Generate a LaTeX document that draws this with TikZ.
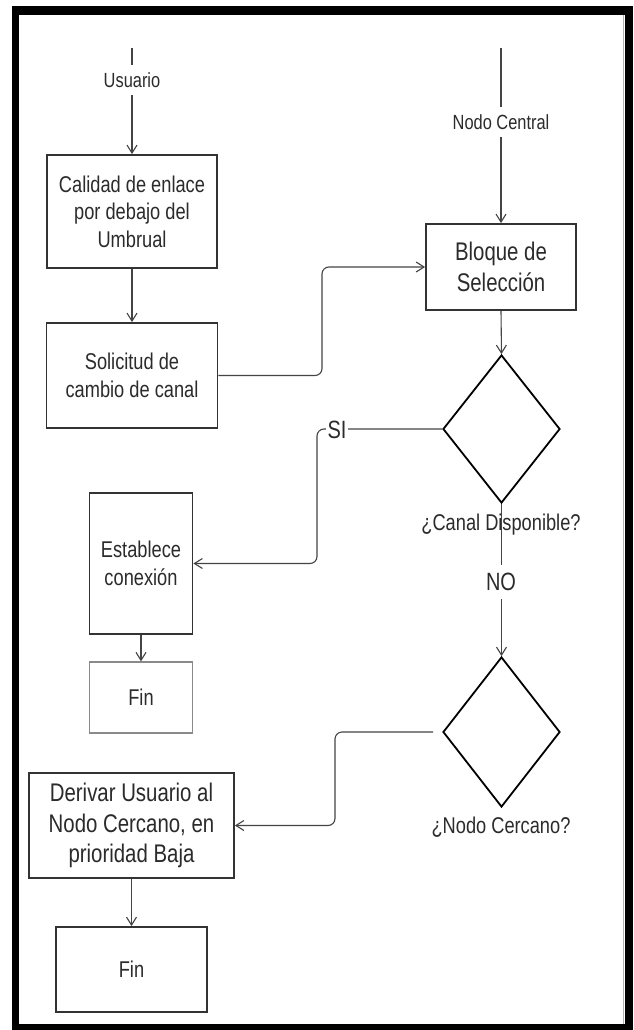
\documentclass[tikz,border=0pt]{standalone}
\usepackage{fontspec}
\setmainfont[FakeStretch=0.8]{Liberation Sans}
\usetikzlibrary{arrows.meta,shapes.geometric}
\definecolor{boxc}{HTML}{333333}
\definecolor{linec}{HTML}{444444}
\definecolor{txtc}{HTML}{2B2B2B}
\definecolor{finc}{HTML}{8A8A8A}
\newcommand\fA{\fontsize{22.8}{27.5}\selectfont}
\newcommand\fB{\fontsize{25.5}{30.5}\selectfont}
\newcommand\fL{\fontsize{20.5}{24}\selectfont}
\newcommand\fS{\fontsize{25}{30}\selectfont}
\begin{document}
\begin{tikzpicture}[x=1pt,y=-1pt,
  procbox/.style={draw=boxc,line width=1.8pt,inner sep=0pt,align=center,text=txtc,font=\fA},
  finbox/.style={procbox,draw=finc,line width=1.3pt},
  decision/.style={diamond,draw=black,line width=1.8pt,inner sep=0pt},
  conn/.style={draw=linec,line width=1.1pt,rounded corners=7pt},
  arr/.style={-{Straight Barb[length=8pt,width=10pt]}},
  lbl/.style={text=txtc,inner xsep=2pt,inner ysep=7pt,font=\fL},
]
\useasboundingbox (0,0) rectangle (633,1030);
% frame
\fill[black] (12,6) rectangle (633,1030);
\fill[white] (19,15) rectangle (625,1024);
\draw[gray!60,line width=1pt] (623,15) -- (623,1024);

% nodes
\node[procbox,minimum width=170pt,minimum height=113pt] (b1) at (132,211.5) {Calidad de enlace\\por debajo del\\Umbrual};
\node[procbox,minimum width=171pt,minimum height=105pt] (b2) at (132,375.5) {Solicitud de\\cambio de canal};
\node[procbox,font=\fB,minimum width=150pt,minimum height=86pt] (bloque) at (501,267) {Bloque de\\Selección};
\node[decision,minimum width=117pt,minimum height=148pt] (d1) at (501.5,429) {};
\node[procbox,minimum width=103pt,minimum height=141pt] (est) at (141,563.5) {Establece\\conexión};
\node[finbox,minimum width=103pt,minimum height=71pt] (fin1) at (141,697.5) {Fin};
\node[decision,minimum width=117pt,minimum height=150pt] (d2) at (501.5,732) {};
\node[procbox,font=\fB,minimum width=205pt,minimum height=105pt] (b3) at (131.5,825.5) {Derivar Usuario al\\Nodo Cercano, en\\prioridad Baja};
\node[procbox,minimum width=151pt,minimum height=85pt] (fin2) at (131.5,969.5) {Fin};

\coordinate (usr0) at (132,48);
\coordinate (nc0) at (501,48);
\coordinate (k1) at (322,0);
\coordinate (k2) at (317,0);
\coordinate (k3) at (335,0);

% connectors
\draw[conn,arr] (usr0) -- (b1.north);
\draw[conn,arr] (b1.south) -- (b2.north);
\draw[conn,arr] (b2.east) -| (k1 |- bloque.west) -- (bloque.west);
\draw[conn,arr] (nc0) -- (bloque.north);
\draw[conn,arr] (bloque.south) -- (d1.north);
\draw[conn,arr] (d1.west) -| (k2 |- est.east) -- (est.east);
\draw[conn,arr] (est.south) -- (fin1.north);
\draw[conn,arr] (d1.south) -- (d2.north);
\draw[conn,arr,shorten <=9pt] (d2.west) -| (k3 |- b3.east) -- (b3.east);
\draw[conn,arr] (b3.south) -- (fin2.north);

% labels
\node[lbl,fill=white] (usr) at (132,80) {Usuario};
\node[lbl,fill=white] (nc) at (501,122) {Nodo Central};
\node[lbl,fill=white,font=\fS,inner ysep=8pt] (si) at (337,430) {SI};
\node[lbl,fill=white,font=\fS,inner ysep=8pt] (no) at (501,582) {NO};
\node[lbl,font=\fA] (cd) at (501,525) {¿Canal Disponible?};
\node[lbl,font=\fA] (ncq) at (501,827) {¿Nodo Cercano?};
\end{tikzpicture}
\end{document}
